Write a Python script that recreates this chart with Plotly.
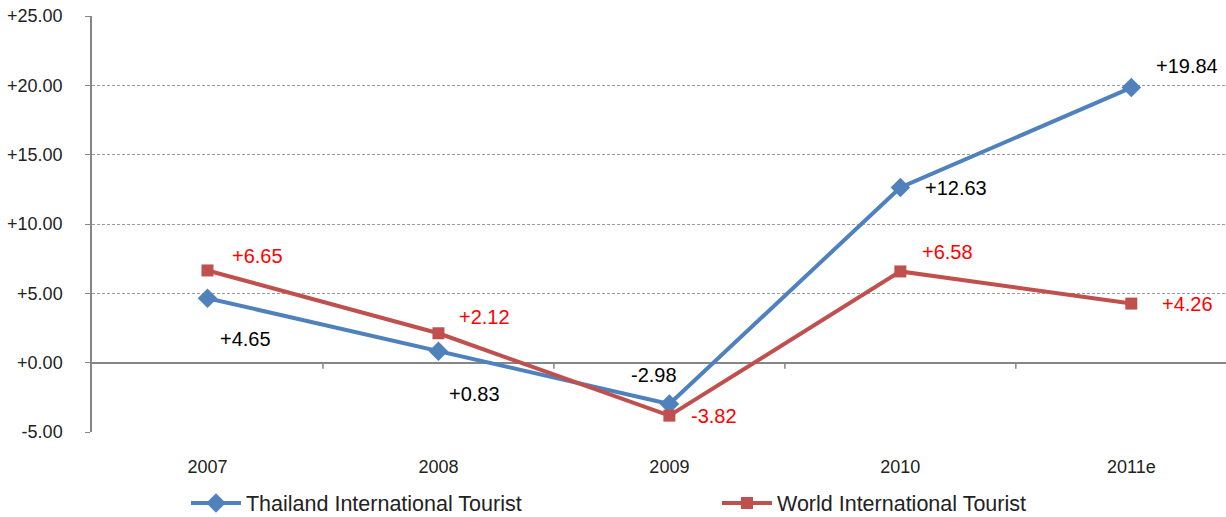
import plotly.graph_objects as go

years = ["2007", "2008", "2009", "2010", "2011e"]
thailand = [4.65, 0.83, -2.98, 12.63, 19.84]
world = [6.65, 2.12, -3.82, 6.58, 4.26]
y_ticks = [-5, 0, 5, 10, 15, 20, 25]
y_tick_labels = ["-5.00", "+0.00", "+5.00", "+10.00", "+15.00", "+20.00", "+25.00"]

# label offsets in pixels (xshift, yshift)
th_shift = [(38, -41), (36, -43), (-15, 29), (56, 0), (56, 22)]
wo_shift = [(50, 14), (46, 16), (45, 0), (47, 19), (56, 0)]

BLUE = "#4F81BD"
RED = "#C0504D"
FONT = "Liberation Sans, Arial, sans-serif"

fig = go.Figure()
fig.add_trace(go.Scatter(
    x=years, y=thailand, mode="lines+markers", name="Thailand International Tourist",
    line=dict(color=BLUE, width=4), marker=dict(symbol="diamond", size=15, color=BLUE)))
fig.add_trace(go.Scatter(
    x=years, y=world, mode="lines+markers", name="World International Tourist",
    line=dict(color=RED, width=4), marker=dict(symbol="square", size=12, color=RED)))

def fmt(v):
    return ("+%.2f" % v) if v >= 0 else ("%.2f" % v)

for i, v in enumerate(thailand):
    fig.add_annotation(x=i, y=v, text=fmt(v), showarrow=False,
                       xshift=th_shift[i][0], yshift=th_shift[i][1],
                       font=dict(family=FONT, size=20, color="#000000"))
for i, v in enumerate(world):
    fig.add_annotation(x=i, y=v, text=fmt(v), showarrow=False,
                       xshift=wo_shift[i][0], yshift=wo_shift[i][1],
                       font=dict(family=FONT, size=20, color="#FF0000"))

# category boundary tick marks hanging below the zero line
for b in [0.5, 1.5, 2.5, 3.5]:
    fig.add_shape(type="line", xref="x", yref="y", x0=b, x1=b, y0=0, y1=-6,
                  ysizemode="pixel", yanchor=0,
                  line=dict(color="#868686", width=1.5))

fig.update_layout(
    width=1226, height=517,
    margin=dict(l=92, r=0, t=16, b=85, autoexpand=False),
    paper_bgcolor="white", plot_bgcolor="white",
    font=dict(family=FONT, size=18, color="#222222"),
    showlegend=True,
    legend=dict(orientation="h", xref="container", yref="container",
                x=0.1517, y=0.027, xanchor="left", yanchor="middle",
                font=dict(family=FONT, size=21.5, color="#222222"),
                itemwidth=50, entrywidth=466, entrywidthmode="pixels"),
)
fig.update_xaxes(
    range=[-0.5, 4.41], showgrid=False, showline=False, ticks="",
    tickfont=dict(family=FONT, size=18, color="#222222"), ticklabelstandoff=22,
    zeroline=False,
)
fig.update_yaxes(
    range=[-5, 25], tickvals=y_ticks, ticktext=y_tick_labels,
    showgrid=True, gridcolor="#9A9A9A", griddash="3px,2px", gridwidth=1,
    zeroline=True, zerolinecolor="#868686", zerolinewidth=1.5,
    showline=True, linecolor="#868686", linewidth=1.5,
    ticks="outside", ticklen=5, tickcolor="#868686",
    tickfont=dict(family=FONT, size=18, color="#222222"), ticklabelstandoff=19,
    ticklabeloverflow="allow",
)

fig.write_html("out.html", config={"displayModeBar": False},
               post_script="document.body.style.margin='0';document.body.style.overflow='hidden';")
